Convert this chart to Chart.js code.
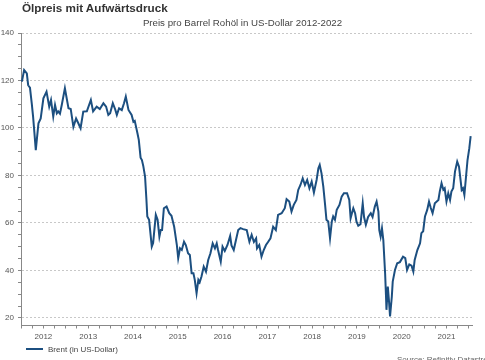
<!DOCTYPE html>
<html>
<head>
<meta charset="utf-8">
<script src="https://cdn.jsdelivr.net/npm/chart.js@4/dist/chart.umd.min.js"></script>
<style>
    body { margin: 0; background: #fff; }
    #wrap { position: relative; width: 485px; height: 360px; overflow: hidden; font-family: "Liberation Sans", Arial, sans-serif; }
    #title { position: absolute; left: 22px; top: 1px; font-size: 11.7px; font-weight: bold; color: #333; white-space: nowrap; }
    #subtitle { position: absolute; left: 0; width: 485px; top: 17px; text-align: center; font-size: 9.7px; color: #444; white-space: nowrap; }
    #legend { position: absolute; left: 26px; top: 345px; font-size: 8px; color: #444; white-space: nowrap; }
    #legend i { display: inline-block; width: 17px; height: 2px; background: #1c4f80; vertical-align: middle; margin-right: 5px; margin-top: -2px; }
    #source { position: absolute; left: 397px; top: 355px; font-size: 8px; color: #666; white-space: nowrap; }
    #box { position: absolute; left: 0; top: 0; width: 485px; height: 360px; }
</style>
</head>
<body>
<div id="wrap">
    <div id="box"><canvas id="myChart"></canvas></div>
    <div id="title">Ölpreis mit Aufwärtsdruck</div>
    <div id="subtitle">Preis pro Barrel Rohöl in US-Dollar 2012-2022</div>
    <div id="legend"><i></i><span id="legendText"></span></div>
    <div id="source">Source: Refinitiv Datastream</div>
</div>
<script>
// Brent, gelesen aus der Grafik (Dezimaljahre / US-Dollar)
let years = [
    2012.02, 2012.07, 2012.13, 2012.16, 2012.20, 2012.24, 2012.27, 2012.30, 2012.33, 2012.39,
    2012.44, 2012.50, 2012.57, 2012.63, 2012.67, 2012.72, 2012.76, 2012.80, 2012.83, 2012.87,
    2012.91, 2012.98, 2013.06, 2013.11, 2013.17, 2013.23, 2013.28, 2013.33, 2013.39, 2013.47,
    2013.56, 2013.61, 2013.69, 2013.76, 2013.84, 2013.90, 2013.95, 2013.99, 2014.05, 2014.10,
    2014.14, 2014.19, 2014.25, 2014.30, 2014.34, 2014.40, 2014.47, 2014.51, 2014.54, 2014.60,
    2014.63, 2014.67, 2014.70, 2014.73, 2014.77, 2014.80, 2014.82, 2014.86, 2014.92, 2014.95,
    2015.01, 2015.05, 2015.09, 2015.12, 2015.15, 2015.19, 2015.25, 2015.31, 2015.36, 2015.42,
    2015.48, 2015.51, 2015.55, 2015.59, 2015.64, 2015.68, 2015.73, 2015.77, 2015.81, 2015.85,
    2015.88, 2015.92, 2015.96, 2015.99, 2016.03, 2016.08, 2016.13, 2016.18, 2016.23, 2016.28,
    2016.33, 2016.37, 2016.40, 2016.46, 2016.50, 2016.55, 2016.61, 2016.67, 2016.70, 2016.75,
    2016.80, 2016.85, 2016.90, 2016.96, 2017.04, 2017.10, 2017.15, 2017.20, 2017.25, 2017.27,
    2017.32, 2017.37, 2017.42, 2017.47, 2017.52, 2017.57, 2017.63, 2017.69, 2017.74, 2017.82,
    2017.89, 2017.93, 2017.99, 2018.04, 2018.09, 2018.15, 2018.19, 2018.24, 2018.29, 2018.34,
    2018.39, 2018.44, 2018.49, 2018.54, 2018.60, 2018.64, 2018.67, 2018.71, 2018.75, 2018.79,
    2018.82, 2018.86, 2018.90, 2018.94, 2018.97, 2019.01, 2019.05, 2019.11, 2019.16, 2019.21,
    2019.28, 2019.33, 2019.36, 2019.38, 2019.42, 2019.46, 2019.49, 2019.53, 2019.58, 2019.63,
    2019.66, 2019.70, 2019.75, 2019.81, 2019.85, 2019.90, 2019.94, 2019.98, 2020.00, 2020.03,
    2020.06, 2020.09, 2020.13, 2020.15, 2020.16, 2020.19, 2020.22, 2020.24, 2020.28, 2020.30,
    2020.35, 2020.40, 2020.46, 2020.53, 2020.58, 2020.62, 2020.67, 2020.72, 2020.76, 2020.79,
    2020.85, 2020.91, 2020.94, 2020.98, 2021.02, 2021.07, 2021.11, 2021.15, 2021.19, 2021.24,
    2021.32, 2021.35, 2021.39, 2021.43, 2021.46, 2021.50, 2021.54, 2021.58, 2021.61, 2021.65,
    2021.69, 2021.74, 2021.78, 2021.84, 2021.87, 2021.90, 2021.93, 2021.97, 2022.01, 2022.04
];
let brent = [
    119.5, 124.4, 123.0, 118.0, 117.0, 110.4, 104.8, 97.8, 90.7, 102.0,
    104.0, 112.5, 115.3, 109.0, 111.8, 104.8, 109.7, 106.2, 107.0, 106.0,
    109.7, 116.7, 108.3, 108.0, 100.5, 104.0, 102.0, 99.9, 106.9, 107.0,
    111.8, 107.0, 109.0, 108.0, 110.4, 109.0, 105.5, 106.2, 110.4, 108.0,
    105.5, 108.3, 107.5, 110.4, 113.2, 107.6, 105.5, 102.6, 103.0, 97.8,
    95.0, 87.5, 86.5, 84.0, 79.5, 70.0, 62.7, 61.3, 50.0, 51.5,
    63.4, 61.3, 54.2, 57.0, 57.0, 66.2, 66.9, 64.1, 63.0, 58.4,
    50.7, 45.1, 49.3, 48.6, 52.1, 50.7, 47.2, 46.5, 38.8, 38.8,
    36.0, 30.4, 36.0, 35.0, 37.4, 41.6, 39.5, 44.4, 47.2, 51.4,
    49.3, 51.4, 48.6, 43.7, 50.0, 48.2, 50.7, 54.5, 50.5, 48.6,
    52.8, 57.0, 57.8, 57.4, 57.0, 52.1, 55.0, 52.0, 53.5, 49.3,
    50.7, 45.8, 48.6, 50.7, 52.1, 53.5, 58.4, 57.0, 63.4, 64.1,
    66.2, 70.0, 69.0, 64.8, 67.6, 69.7, 73.9, 76.0, 78.8, 76.0,
    78.1, 74.6, 77.4, 72.8, 78.1, 83.0, 84.4, 80.9, 75.3, 67.6,
    61.3, 60.6, 53.5, 60.6, 62.7, 61.3, 65.5, 67.6, 71.1, 72.5,
    72.5, 69.7, 62.0, 63.4, 66.2, 64.1, 60.6, 58.8, 59.5, 68.3,
    62.5, 59.2, 62.5, 64.1, 62.5, 66.9, 69.0, 64.8, 57.0, 54.2,
    57.7, 52.8, 38.8, 29.0, 23.4, 33.2, 26.2, 20.6, 29.0, 35.3,
    40.2, 43.0, 43.5, 45.8, 45.2, 40.2, 42.5, 42.0, 39.5, 44.4,
    48.6, 51.4, 55.7, 56.5, 62.7, 65.5, 69.0, 66.3, 64.1, 68.3,
    69.7, 73.2, 76.7, 74.0, 74.6, 69.0, 72.5, 69.7, 73.2, 74.6,
    81.6, 85.8, 83.7, 73.9, 74.6, 71.8, 78.1, 86.5, 91.5, 96.6
];
let seriesName = 'Brent (in US-Dollar)';
let yearLabels = [2012, 2013, 2014, 2015, 2016, 2017, 2018, 2019, 2020, 2021];
let yTicks = [20, 40, 60, 80, 100, 120, 140];

(() => {
    let ctx = document.getElementById('myChart');
    let points = years.map((v, i) => ({ x: v, y: brent[i] }));
    let font = { family: '"Liberation Sans", Arial, sans-serif', size: 8 };
    document.getElementById('legendText').textContent = seriesName;

    new Chart(ctx, {
        type: 'line',
        data: {
            datasets: [{
                label: seriesName,
                data: points,
                borderColor: '#1c4f80',
                backgroundColor: '#1c4f80',
                borderWidth: 2,
                pointRadius: 0,
                tension: 0
            }]
        },
        options: {
            responsive: true,
            maintainAspectRatio: false,
            animation: false,
            layout: { padding: { top: 33, left: 0, right: 13, bottom: 17.5 } },
            plugins: {
                title: { display: false },
                tooltip: { enabled: false },
                legend: { display: false }
            },
            scales: {
                x: {
                    type: 'linear',
                    min: 2012,
                    max: 2022.07,
                    afterBuildTicks: axis => {
                        let t = [];
                        for (let i = 0; i <= 40; i++) t.push({ value: 2012 + i * 0.25 });
                        axis.ticks = t;
                    },
                    afterFit: axis => { axis.height = 17; },
                    grid: { drawOnChartArea: false, tickLength: 3, tickColor: '#888' },
                    border: { color: '#888' },
                    ticks: {
                        autoSkip: false,
                        maxRotation: 0,
                        padding: 3,
                        color: '#555',
                        font: font,
                        callback: v => {
                            let y = Math.floor(v);
                            return (v - y === 0.5 && yearLabels.includes(y)) ? String(y) : '';
                        }
                    }
                },
                y: {
                    min: 16.8,
                    max: 140,
                    afterBuildTicks: axis => {
                        let t = [];
                        for (let v = 20; v <= 140; v += 5) t.push({ value: v });
                        axis.ticks = t;
                    },
                    afterFit: axis => { axis.width = 21; },
                    grid: {
                        tickLength: 3,
                        tickColor: '#888',
                        color: c => yTicks.includes(c.tick && c.tick.value) ? '#c8c8c8' : 'rgba(0,0,0,0)'
                    },
                    border: { color: '#888', dash: [2, 2] },
                    ticks: {
                        autoSkip: false,
                        padding: 4,
                        color: '#555',
                        font: font,
                        callback: v => yTicks.includes(v) ? String(v) : ''
                    }
                }
            }
        }
    });
})();
</script>
</body>
</html>
